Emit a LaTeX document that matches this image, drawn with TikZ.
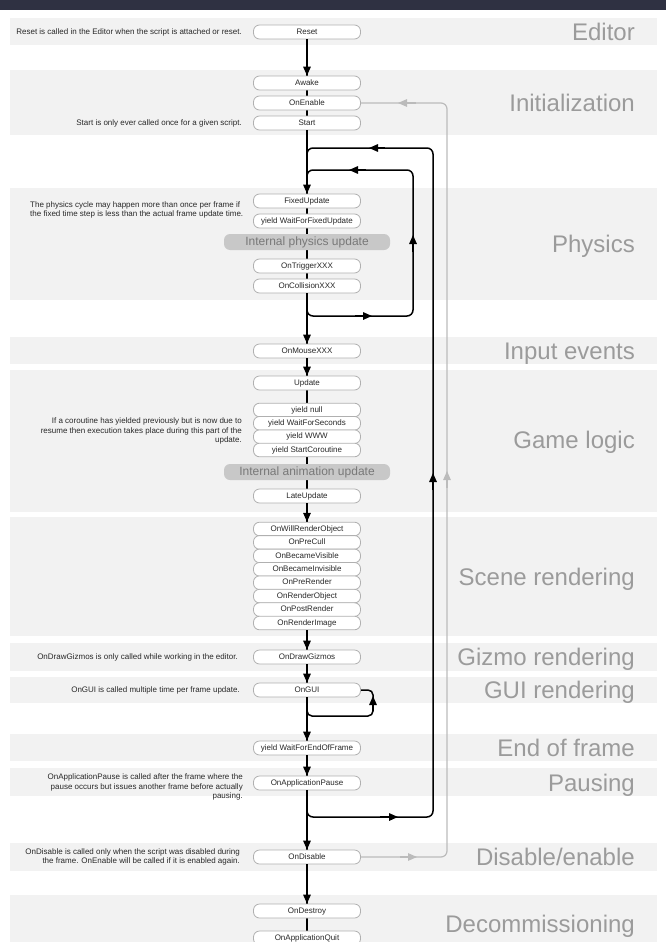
\documentclass[tikz,border=0pt]{standalone}
\usepackage{fontspec}
\setmainfont{Liberation Sans}
\usetikzlibrary{arrows.meta}
\definecolor{topbar}{RGB}{47,49,66}
\definecolor{bandgray}{RGB}{242,242,242}
\definecolor{boxborder}{RGB}{176,176,176}
\definecolor{txt}{RGB}{40,40,40}
\definecolor{pillgray}{RGB}{200,200,200}
\definecolor{pilltext}{RGB}{120,120,120}
\definecolor{titlegray}{RGB}{155,155,155}
\definecolor{loopgray}{RGB}{187,187,187}
\tikzset{
  fn/.style={draw=boxborder, line width=0.8pt, fill=white, rounded corners=6pt, minimum width=107pt, minimum height=14pt, inner sep=0pt, text height=6pt, text depth=1.6pt, font=\fontsize{8}{9}\selectfont, text=txt},
  fns/.style={fn, minimum height=13.6pt},
  pill/.style={fill=pillgray, rounded corners=6pt, minimum width=166pt, minimum height=16pt, inner sep=0pt, text height=9pt, text depth=2.5pt, font=\fontsize{12}{13}\selectfont, text=pilltext},
  note/.style={font=\fontsize{8}{9.7}\selectfont, text=txt, align=right, anchor=east, inner sep=0pt},
  sectitle/.style={font=\fontsize{24}{26}\selectfont, text=titlegray, anchor=base east, inner sep=0pt},
  band/.style={fill=bandgray, draw=none},
  flow/.style={line width=1.5pt, black},
  arr/.style={flow, -{Triangle[length=9pt,width=7.5pt]}},
  gflow/.style={line width=1.2pt, loopgray},
  garr/.style={gflow, -{Triangle[length=9pt,width=7.5pt]}},
}
\begin{document}
\begin{tikzpicture}[x=1pt,y=-1pt]
\useasboundingbox (0,0) rectangle (666,942);
\clip (0,0) rectangle (666,942);
\fill[topbar] (0,0) rectangle (666,10);
% bands
\fill[band] (10,18) rectangle (657,45);
\fill[band] (10,70) rectangle (657,135);
\fill[band] (10,188) rectangle (657,300);
\fill[band] (10,337) rectangle (657,364);
\fill[band] (10,370) rectangle (657,512);
\fill[band] (10,517) rectangle (657,636);
\fill[band] (10,643) rectangle (657,671);
\fill[band] (10,677) rectangle (657,703);
\fill[band] (10,734) rectangle (657,761);
\fill[band] (10,768) rectangle (657,796);
\fill[band] (10,843) rectangle (657,871);
\fill[band] (10,895) rectangle (657,942);
% titles
\node[sectitle] (tEditor) at (635,40.6) {Editor};
\node[sectitle] (tInit) at (635,111.6) {Initialization};
\node[sectitle] (tPhys) at (635,252.6) {Physics};
\node[sectitle] (tInput) at (635,359.6) {Input events};
\node[sectitle] (tGame) at (635,448.6) {Game logic};
\node[sectitle] (tScene) at (635,585.6) {Scene rendering};
\node[sectitle] (tGizmo) at (635,665.6) {Gizmo rendering};
\node[sectitle] (tGUI) at (635,698.6) {GUI rendering};
\node[sectitle] (tEnd) at (635,756.6) {End of frame};
\node[sectitle] (tPause) at (635,791.6) {Pausing};
\node[sectitle] (tDis) at (635,865.6) {Disable/enable};
\node[sectitle] (tDecom) at (635,932.6) {Decommissioning};
% notes
\node[note] (nReset) at (242,32) {Reset is called in the Editor when the script is attached or reset.};
\node[note] (nStart) at (242,123) {Start is only ever called once for a given script.};
\node[note, align=left, anchor=west] (nPhys) at (30,210) {The physics cycle may happen more than once per frame if\\the fixed time step is less than the actual frame update time.};
\node[note] (nCo) at (242,431) {If a coroutine has yielded previously but is now due to\\resume then execution takes place during this part of the\\update.};
\node[note] (nGizmo) at (238,657) {OnDrawGizmos is only called while working in the editor.};
\node[note] (nGUI) at (240,690) {OnGUI is called multiple time per frame update.};
\node[note] (nPause) at (243,787) {OnApplicationPause is called after the frame where the\\pause occurs but issues another frame before actually\\pausing.};
\node[note] (nDis) at (240,857) {OnDisable is called only when the script was disabled during\\the frame. OnEnable will be called if it is enabled again.};
% loops (drawn under boxes)
\draw[gflow, rounded corners=6pt] (361,857) -- (447,857) -- (447,103) -- (361,103);
\draw[garr] (400,857) -- (417,857);
\draw[garr] (447,488) -- (447,471);
\draw[garr] (416,103) -- (398,103);
\draw[flow, rounded corners=6pt] (307,800) |- (433,817) -- (433,148) -| (307,165);
\draw[arr] (380,817) -- (398,817);
\draw[arr] (433,490) -- (433,473);
\draw[arr] (385,148) -- (369,148);
\draw[flow, rounded corners=6pt] (307,300) |- (413,316) -- (413,170) -| (307,185);
\draw[arr] (355,316) -- (372,316);
\draw[arr] (413,252) -- (413,235);
\draw[arr] (366,170) -- (349,170);
\draw[flow, rounded corners=5pt] (307,700) |- (373,716) -- (373,690) -- (360,690);
\draw[arr] (373,711) -- (373,696);
% main line
\draw[flow] (307,39) -- (307,140);
\draw[flow] (307,130) -- (307,940);
% boxes
\node[fn] (reset) at (307,32) {Reset};
\node[fn] (awake) at (307,83) {Awake};
\node[fn] (onenable) at (307,103) {OnEnable};
\node[fn] (start) at (307,123) {Start};
\node[fn] (fixed) at (307,201) {FixedUpdate};
\node[fn] (wffu) at (307,221) {yield WaitForFixedUpdate};
\node[pill] (physupd) at (307,242) {Internal physics update};
\node[fn] (trigger) at (307,266) {OnTriggerXXX};
\node[fn] (collision) at (307,286) {OnCollisionXXX};
\node[fn] (mouse) at (307,351) {OnMouseXXX};
\node[fn] (update) at (307,383) {Update};
\node[fns] (ynull) at (307,410) {yield null};
\node[fns] (ywfs) at (307,423.3) {yield WaitForSeconds};
\node[fns] (ywww) at (307,436.7) {yield WWW};
\node[fns] (ysc) at (307,450) {yield StartCoroutine};
\node[pill] (animupd) at (307,472) {Internal animation update};
\node[fn] (late) at (307,496) {LateUpdate};
\node[fns] (willrender) at (307,529) {OnWillRenderObject};
\node[fns] (precull) at (307,542.4) {OnPreCull};
\node[fns] (visible) at (307,555.9) {OnBecameVisible};
\node[fns] (invisible) at (307,569.3) {OnBecameInvisible};
\node[fns] (prerender) at (307,582.7) {OnPreRender};
\node[fns] (renderobj) at (307,596.1) {OnRenderObject};
\node[fns] (postrender) at (307,609.6) {OnPostRender};
\node[fns] (renderimg) at (307,623) {OnRenderImage};
\node[fn] (gizmos) at (307,657) {OnDrawGizmos};
\node[fn] (ongui) at (307,690) {OnGUI};
\node[fn] (eof) at (307,748) {yield WaitForEndOfFrame};
\node[fn] (pause) at (307,783) {OnApplicationPause};
\node[fn] (ondisable) at (307,857) {OnDisable};
\node[fn] (destroy) at (307,911) {OnDestroy};
\node[fn] (quit) at (307,938) {OnApplicationQuit};
% arrows on main line
\draw[arr] (reset) -- (awake);
\draw[arr] (start) -- (fixed);
\draw[arr] (collision) -- (mouse);
\draw[arr] (mouse) -- (update);
\draw[arr] (late) -- (willrender);
\draw[arr] (renderimg) -- (gizmos);
\draw[arr] (gizmos) -- (ongui);
\draw[arr] (ongui) -- (eof);
\draw[arr] (eof) -- (pause);
\draw[arr] (pause) -- (ondisable);
\draw[arr] (ondisable) -- (destroy);
\end{tikzpicture}
\end{document}
